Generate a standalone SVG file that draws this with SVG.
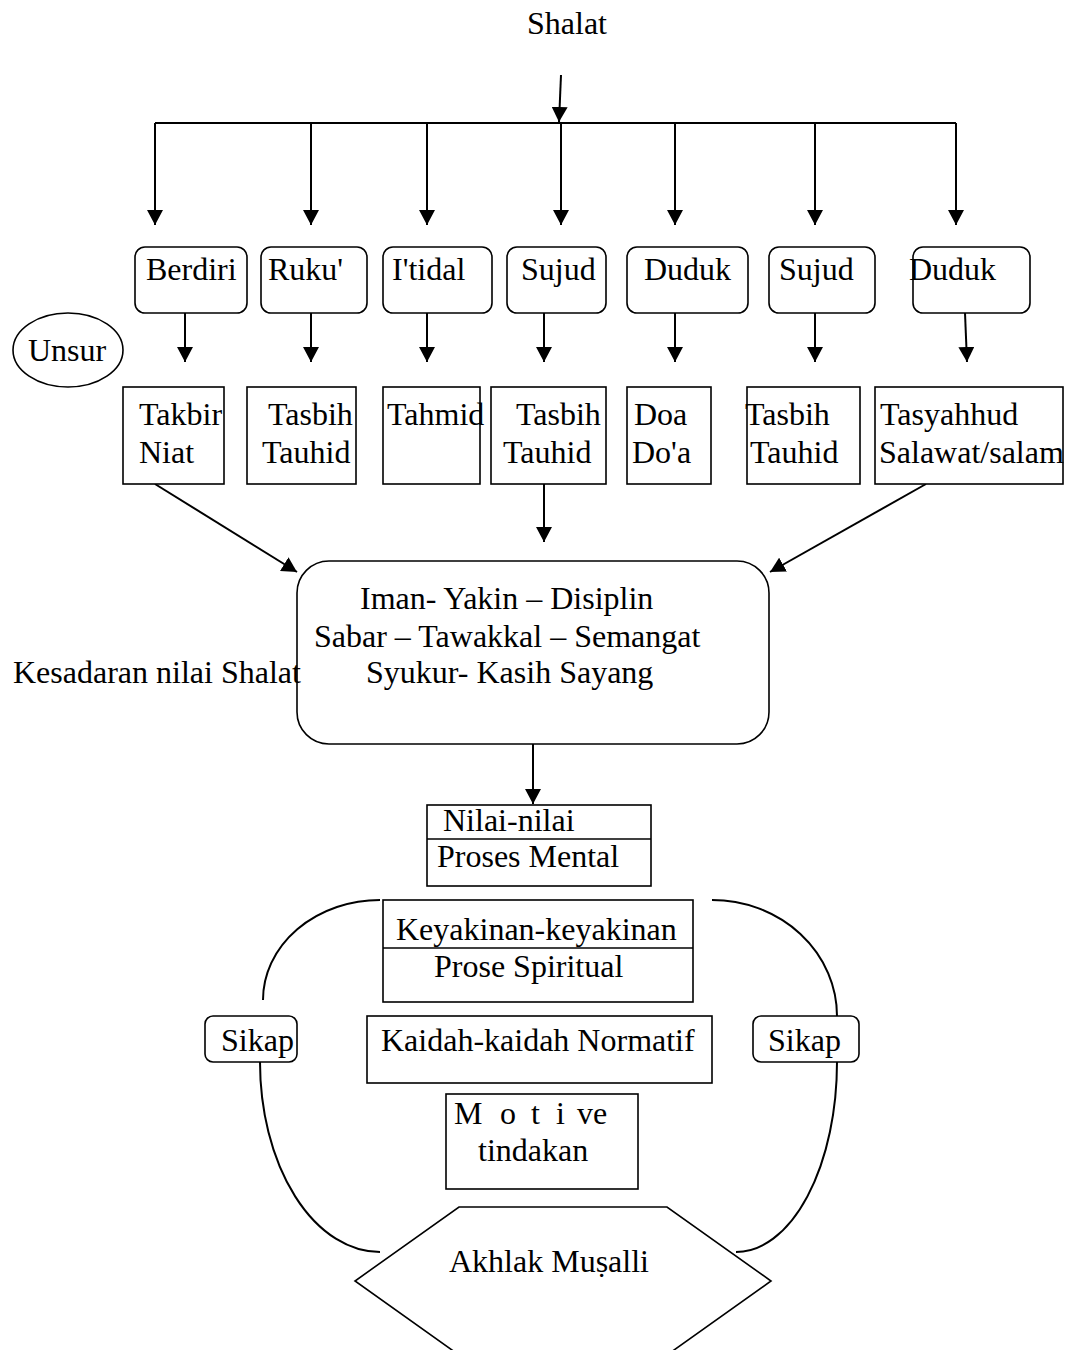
<svg xmlns="http://www.w3.org/2000/svg" width="1068" height="1350" viewBox="0 0 1068 1350">
<style>
text{font-family:"Liberation Serif","Times New Roman",serif;font-size:32px;fill:#000}
.box{fill:#fff;stroke:#000;stroke-width:1.6}
.ln{fill:none;stroke:#000;stroke-width:2}
</style>
<defs>
<marker id="ah" markerUnits="userSpaceOnUse" markerWidth="16" markerHeight="16" refX="15" refY="8" orient="auto" viewBox="0 0 16 16">
<path d="M0,0 L15,8 L0,16 z" fill="#000"/>
</marker>
</defs>
<rect width="1068" height="1350" fill="#fff"/>

<g id="connectors">
<path class="ln" d="M561,75 L559,122" marker-end="url(#ah)"/>
<path class="ln" d="M155,123 H956"/>
<path class="ln" d="M155,123 V225" marker-end="url(#ah)"/>
<path class="ln" d="M311,123 V225" marker-end="url(#ah)"/>
<path class="ln" d="M427,123 V225" marker-end="url(#ah)"/>
<path class="ln" d="M561,123 V225" marker-end="url(#ah)"/>
<path class="ln" d="M675,123 V225" marker-end="url(#ah)"/>
<path class="ln" d="M815,123 V225" marker-end="url(#ah)"/>
<path class="ln" d="M956,123 V225" marker-end="url(#ah)"/>
<path class="ln" d="M185,313 V362" marker-end="url(#ah)"/>
<path class="ln" d="M311,313 V362" marker-end="url(#ah)"/>
<path class="ln" d="M427,313 V362" marker-end="url(#ah)"/>
<path class="ln" d="M544,313 V362" marker-end="url(#ah)"/>
<path class="ln" d="M675,313 V362" marker-end="url(#ah)"/>
<path class="ln" d="M815,313 V362" marker-end="url(#ah)"/>
<path class="ln" d="M965,313 L967,362" marker-end="url(#ah)"/>
<path class="ln" d="M155,484 L297,572" marker-end="url(#ah)"/>
<path class="ln" d="M544,484 V542" marker-end="url(#ah)"/>
<path class="ln" d="M926,484 L770,572" marker-end="url(#ah)"/>
<path class="ln" d="M533,744 V804" marker-end="url(#ah)"/>
<path class="ln" d="M380,900 A117,100 0 0 0 263,1000"/>
<path class="ln" d="M260,1062 A120,190 0 0 0 380,1252"/>
<path class="ln" d="M712,900 A125,116 0 0 1 837,1016"/>
<path class="ln" d="M837,1062 A101,190 0 0 1 736,1252"/>
</g>

<g id="title"><text x="527" y="34">Shalat</text></g>

<g id="berdiri"><rect class="box" x="135" y="247" width="112" height="66" rx="10"/><text x="146" y="280">Berdiri</text></g>
<g id="ruku"><rect class="box" x="261" y="247" width="106" height="66" rx="10"/><text x="268" y="280">Ruku'</text></g>
<g id="itidal"><rect class="box" x="383" y="247" width="109" height="66" rx="10"/><text x="392" y="280">I'tidal</text></g>
<g id="sujud1"><rect class="box" x="507" y="247" width="99" height="66" rx="10"/><text x="521" y="280">Sujud</text></g>
<g id="duduk1"><rect class="box" x="627" y="247" width="121" height="66" rx="10"/><text x="644" y="280">Duduk</text></g>
<g id="sujud2"><rect class="box" x="769" y="247" width="106" height="66" rx="10"/><text x="779" y="280">Sujud</text></g>
<g id="duduk2"><rect class="box" x="913" y="247" width="117" height="66" rx="10"/><text x="909" y="280">Duduk</text></g>

<g id="unsur"><ellipse class="box" cx="68" cy="350" rx="55" ry="37"/><text x="28" y="361">Unsur</text></g>

<g id="takbir"><rect class="box" x="123" y="387" width="101" height="97"/><text x="139" y="425">Takbir</text><text x="139" y="463">Niat</text></g>
<g id="tasbih1"><rect class="box" x="247" y="387" width="109" height="97"/><text x="268" y="425">Tasbih</text><text x="262" y="463">Tauhid</text></g>
<g id="tahmid"><rect class="box" x="383" y="387" width="97" height="97"/><text x="387" y="425">Tahmid</text></g>
<g id="tasbih2"><rect class="box" x="491" y="387" width="115" height="97"/><text x="516" y="425">Tasbih</text><text x="503" y="463">Tauhid</text></g>
<g id="doa"><rect class="box" x="627" y="387" width="84" height="97"/><text x="634" y="425">Doa</text><text x="632" y="463">Do'a</text></g>
<g id="tasbih3"><rect class="box" x="747" y="387" width="113" height="97"/><text x="745" y="425">Tasbih</text><text x="750" y="463">Tauhid</text></g>
<g id="tasyahhud"><rect class="box" x="875" y="387" width="188" height="97"/><text x="880" y="425">Tasyahhud</text><text x="879" y="463">Salawat/salam</text></g>

<g id="nilai-shalat">
<rect class="box" x="297" y="561" width="472" height="183" rx="32"/>
<text x="360" y="609">Iman- Yakin – Disiplin</text>
<text x="314" y="647">Sabar – Tawakkal – Semangat</text>
<text x="366" y="683">Syukur- Kasih Sayang</text>
</g>
<g id="kesadaran"><text x="13" y="683">Kesadaran nilai Shalat</text></g>

<g id="nilai-nilai"><rect class="box" x="427" y="805" width="224" height="81"/><path class="box" d="M427,839 H651"/><text x="443" y="831">Nilai-nilai</text><text x="437" y="867">Proses Mental</text></g>
<g id="keyakinan"><rect class="box" x="383" y="900" width="310" height="102"/><path class="box" d="M383,948 H693"/><text x="396" y="940">Keyakinan-keyakinan</text><text x="434" y="977">Prose Spiritual</text></g>
<g id="kaidah"><rect class="box" x="367" y="1016" width="345" height="67"/><text x="381" y="1051">Kaidah-kaidah Normatif</text></g>
<g id="motive"><rect class="box" x="446" y="1094" width="192" height="95"/><text x="454 482 500 516 531 540 556 565 577" y="1124">M o t i ve</text><text x="478" y="1161">tindakan</text></g>
<g id="sikap-left"><rect class="box" x="205" y="1016" width="92" height="46" rx="8"/><text x="221" y="1051">Sikap</text></g>
<g id="sikap-right"><rect class="box" x="753" y="1016" width="106" height="46" rx="8"/><text x="768" y="1051">Sikap</text></g>
<g id="akhlak"><polygon class="box" points="459,1207 667,1207 771,1281 667,1355 459,1355 355,1281"/><text x="449" y="1272">Akhlak Muṣalli</text></g>
</svg>
